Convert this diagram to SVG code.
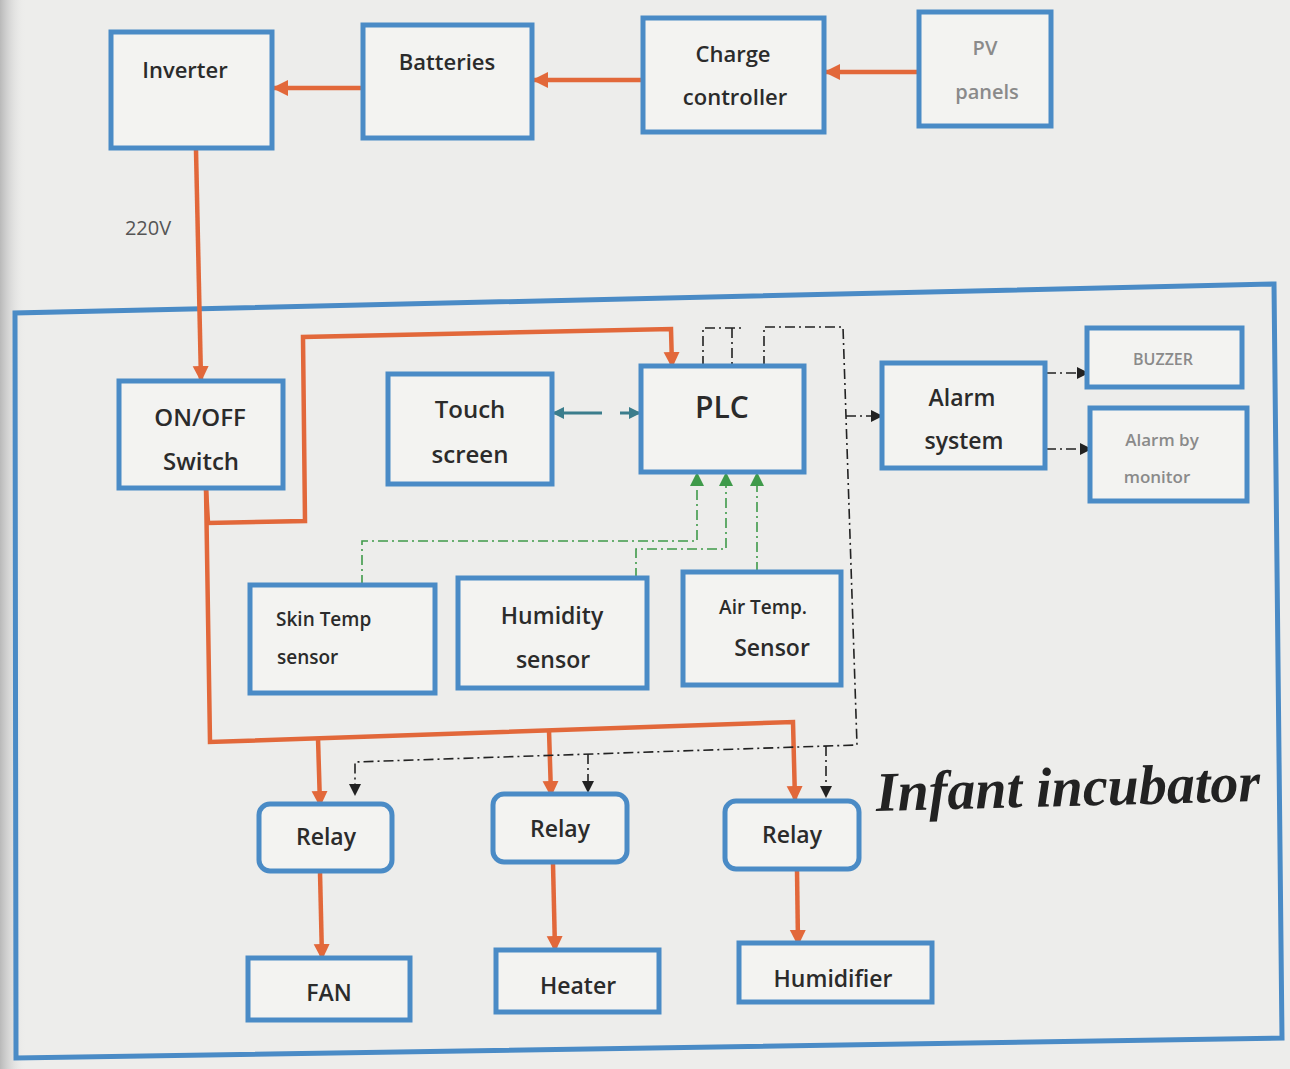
<svg xmlns="http://www.w3.org/2000/svg" width="1290" height="1069" viewBox="0 0 1290 1069">
<defs>
<style>
.box{fill:#f3f3f1;stroke:#4a8bc6;stroke-width:5}
.t{font-family:"Open Sans","Liberation Sans",sans-serif;font-weight:600;fill:#2b2b2b;text-anchor:middle}
.ts0{text-anchor:start}
.g{fill:#8a8a8a}
.pw{fill:none;stroke:#e2683a;stroke-width:4.5}
.ctl{fill:none;stroke:#222;stroke-width:1.6;stroke-dasharray:10 4 2 4}
.sen{fill:none;stroke:#3f9a4a;stroke-width:1.6;stroke-dasharray:10 4 2 4}
.ts{fill:none;stroke:#3b7d8c;stroke-width:3}
</style>
<marker id="ao" markerUnits="userSpaceOnUse" markerWidth="18" markerHeight="18" refX="14" refY="9" orient="auto"><path d="M0,1 L16,9 L0,17 Z" fill="#e2683a"/></marker>
<marker id="ab" markerUnits="userSpaceOnUse" markerWidth="14" markerHeight="14" refX="11" refY="7" orient="auto"><path d="M0,1 L12,7 L0,13 Z" fill="#222"/></marker>
<marker id="ag" markerUnits="userSpaceOnUse" markerWidth="16" markerHeight="16" refX="13" refY="8" orient="auto"><path d="M0,1 L14,8 L0,15 Z" fill="#3f9a4a"/></marker>
<marker id="at" markerUnits="userSpaceOnUse" markerWidth="14" markerHeight="14" refX="11" refY="7" orient="auto"><path d="M0,1 L12,7 L0,13 Z" fill="#3b7d8c"/></marker>
<linearGradient id="shade" x1="0" y1="0" x2="1" y2="0"><stop offset="0" stop-color="#b9b9b9"/><stop offset="1" stop-color="#ececec" stop-opacity="0"/></linearGradient>
</defs>
<rect width="1290" height="1069" fill="#ededeb"/>
<rect width="26" height="1069" fill="url(#shade)"/>

<g id="incubator">
<path d="M16,1058 L15,313 L1274,284 L1282,1038 Z" fill="none" stroke="#4a8bc6" stroke-width="5"/>
<text x="1068" y="806" font-family="Liberation Serif,serif" font-style="italic" font-weight="bold" font-size="56" fill="#222" text-anchor="middle" transform="rotate(-1.5 1068 790)">Infant incubator</text>
</g>

<g id="connectors">
<path class="pw" d="M919,72 L826,72" marker-end="url(#ao)"/>
<path class="pw" d="M643,80 L534,80" marker-end="url(#ao)"/>
<path class="pw" d="M363,88 L274,88" marker-end="url(#ao)"/>
<path class="pw" d="M196,150 L201,380" marker-end="url(#ao)"/>
<path class="pw" d="M206,488 L208,523 L305,521 L303,337 L671,329 L672,366" marker-end="url(#ao)"/>
<path class="pw" d="M206,488 L210,742 L793,722 L795,800" marker-end="url(#ao)"/>
<path class="pw" d="M318,738 L320,805" marker-end="url(#ao)"/>
<path class="pw" d="M549,730 L551,795" marker-end="url(#ao)"/>
<path class="pw" d="M320,872 L322,958" marker-end="url(#ao)"/>
<path class="pw" d="M553,864 L555,950" marker-end="url(#ao)"/>
<path class="pw" d="M797,870 L798,944" marker-end="url(#ao)"/>

<path class="ctl" d="M703,366 V328 H742"/>
<path class="ctl" d="M732,328 V366"/>
<path class="ctl" d="M764,366 V327 H843 L857,745 L355,762 V795" marker-end="url(#ab)"/>
<path class="ctl" d="M588,754 V792" marker-end="url(#ab)"/>
<path class="ctl" d="M826,746 V797" marker-end="url(#ab)"/>
<path class="ctl" d="M846,416 H882" marker-end="url(#ab)"/>
<path class="ctl" d="M1046,373 H1088" marker-end="url(#ab)"/>
<path class="ctl" d="M1046,449 H1091" marker-end="url(#ab)"/>

<path class="sen" d="M362,585 V541 H697 V473" marker-end="url(#ag)"/>
<path class="sen" d="M636,578 V549 H726 V473" marker-end="url(#ag)"/>
<path class="sen" d="M757,572 V473" marker-end="url(#ag)"/>

<path class="ts" d="M602,413 H553" marker-end="url(#at)"/>
<path class="ts" d="M620,413 H640" marker-end="url(#at)"/>
</g>

<text x="148" y="235" font-family="Open Sans,Liberation Sans,sans-serif" font-size="20" fill="#555" text-anchor="middle">220V</text>

<g id="inverter"><rect class="box" x="111" y="32" width="161" height="116"/><text class="t" x="185" y="78" font-size="22">Inverter</text></g>
<g id="batteries"><rect class="box" x="363" y="25" width="169" height="113"/><text class="t" x="447" y="70" font-size="22">Batteries</text></g>
<g id="charge"><rect class="box" x="643" y="18" width="181" height="114"/><text class="t" x="733" y="62" font-size="22">Charge</text><text class="t" x="735" y="105" font-size="22">controller</text></g>
<g id="pv"><rect class="box" x="919" y="12" width="132" height="114"/><text class="t g" x="985" y="55" font-size="20">PV</text><text class="t g" x="987" y="99" font-size="20">panels</text></g>

<g id="switch"><rect class="box" x="119" y="381" width="164" height="107"/><text class="t" x="200" y="426" font-size="24">ON/OFF</text><text class="t" x="201" y="470" font-size="24">Switch</text></g>
<g id="touch"><rect class="box" x="388" y="374" width="164" height="110"/><text class="t" x="470" y="418" font-size="24">Touch</text><text class="t" x="470" y="463" font-size="24">screen</text></g>
<g id="plc"><rect class="box" x="641" y="366" width="163" height="106"/><text class="t" x="722" y="418" font-size="30" font-weight="700">PLC</text></g>
<g id="alarm"><rect class="box" x="882" y="363" width="163" height="105"/><text class="t" x="962" y="406" font-size="23">Alarm</text><text class="t" x="964" y="449" font-size="23">system</text></g>
<g id="buzzer"><rect class="box" x="1087" y="328" width="155" height="59"/><text class="t g" x="1163" y="365" font-size="16">BUZZER</text></g>
<g id="monitor"><rect class="box" x="1090" y="408" width="157" height="93"/><text class="t g" x="1162" y="446" font-size="17">Alarm by</text><text class="t g" x="1157" y="483" font-size="17">monitor</text></g>

<g id="skin"><rect class="box" x="250" y="585" width="185" height="108"/><text class="t ts0" x="276" y="626" font-size="19">Skin Temp</text><text class="t ts0" x="277" y="664" font-size="19">sensor</text></g>
<g id="humidity"><rect class="box" x="458" y="578" width="189" height="110"/><text class="t" x="552" y="624" font-size="23">Humidity</text><text class="t" x="553" y="668" font-size="23">sensor</text></g>
<g id="airtemp"><rect class="box" x="683" y="572" width="158" height="113"/><text class="t" x="763" y="614" font-size="19">Air Temp.</text><text class="t" x="772" y="656" font-size="23">Sensor</text></g>

<g id="relay1"><rect class="box" x="259" y="804" width="133" height="67" rx="11"/><text class="t" x="326" y="845" font-size="23">Relay</text></g>
<g id="relay2"><rect class="box" x="493" y="794" width="134" height="68" rx="11"/><text class="t" x="560" y="837" font-size="23">Relay</text></g>
<g id="relay3"><rect class="box" x="725" y="801" width="134" height="68" rx="11"/><text class="t" x="792" y="843" font-size="23">Relay</text></g>

<g id="fan"><rect class="box" x="248" y="958" width="162" height="62"/><text class="t" x="329" y="1001" font-size="23">FAN</text></g>
<g id="heater"><rect class="box" x="496" y="950" width="163" height="62"/><text class="t" x="578" y="994" font-size="23">Heater</text></g>
<g id="humidifier"><rect class="box" x="739" y="943" width="193" height="59"/><text class="t" x="833" y="987" font-size="23">Humidifier</text></g>
</svg>
